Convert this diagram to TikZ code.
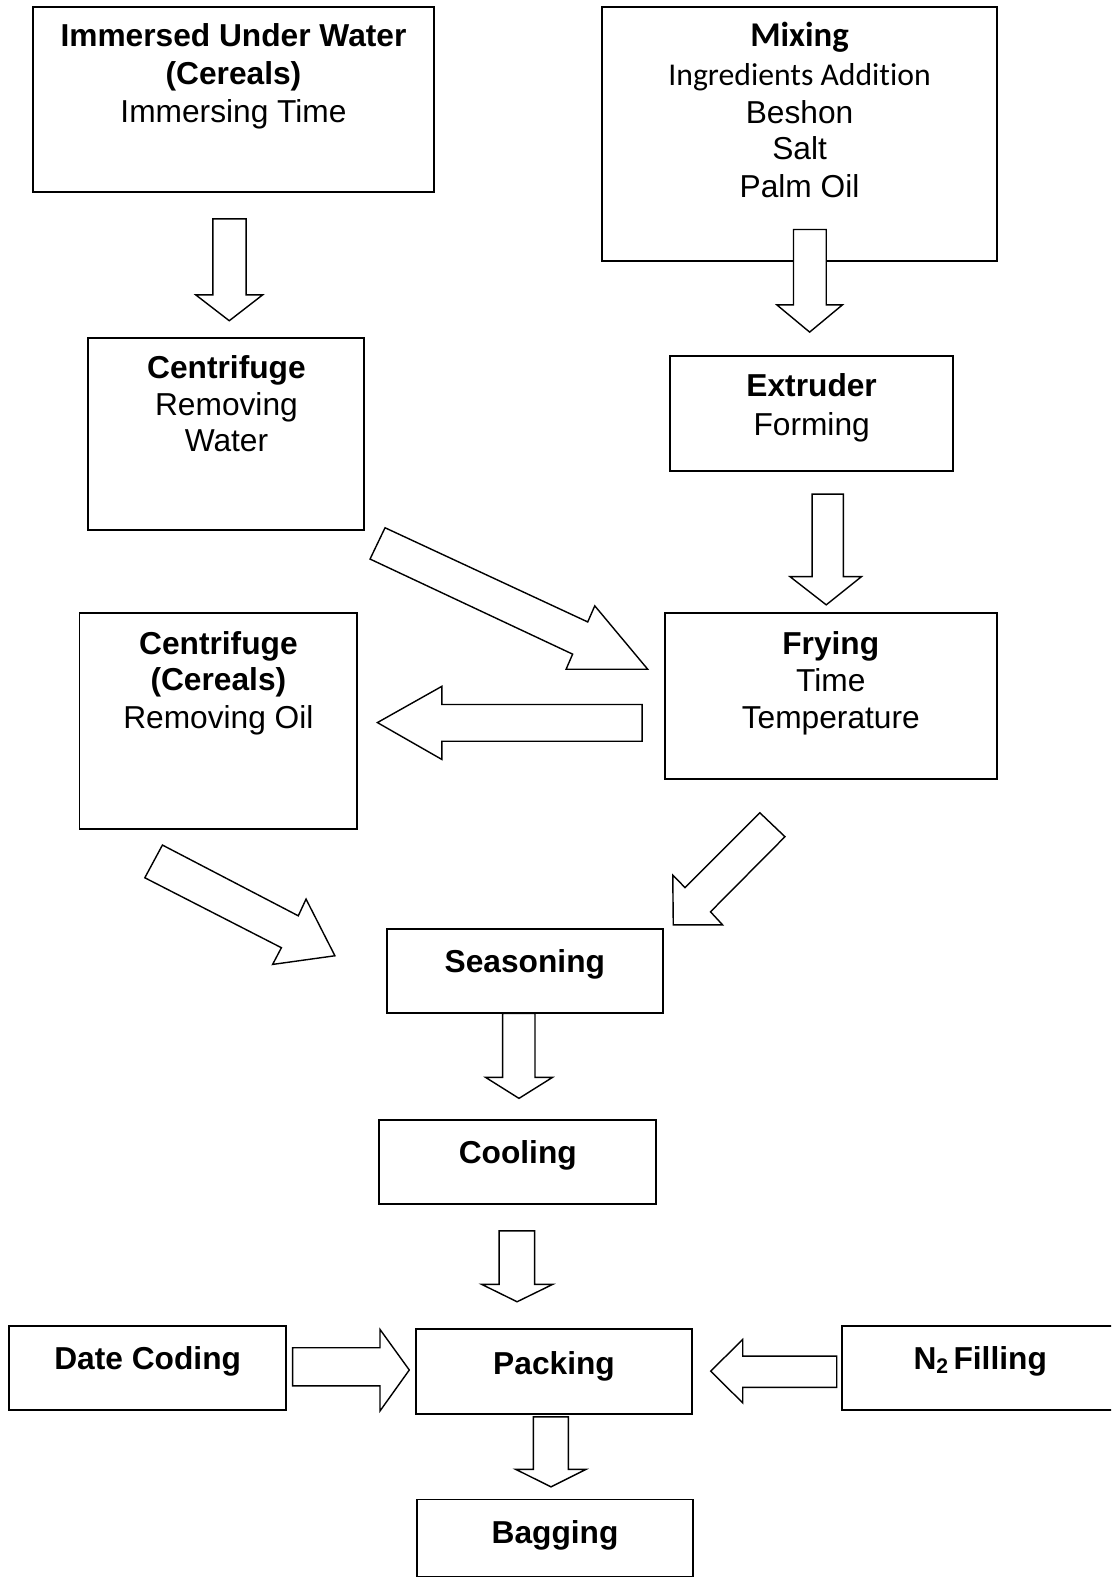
\documentclass[tikz,border=0pt]{standalone}
\usepackage{fontspec}
\setmainfont{Liberation Sans}
\newfontfamily\calib[Ligatures=NoCommon]{Carlito}
\begin{document}
\begin{tikzpicture}[x=1pt,y=-1pt,
  box/.style={draw, line width=1.9pt, inner sep=0pt, outer sep=0pt},
  blk/.style={draw, line width=1.4pt, fill=white, line join=miter},
  txt/.style={anchor=base, inner sep=0pt, font=\fontsize{31.5}{37}\selectfont},
  btxt/.style={anchor=base, inner sep=0pt, font=\fontsize{31.5}{37}\selectfont\bfseries},
  ctxt/.style={anchor=base, inner sep=0pt, font=\fontsize{31.5}{37}\selectfont\calib},
  cbtxt/.style={anchor=base, inner sep=0pt, font=\fontsize{34.5}{40}\selectfont\calib\bfseries}]
\useasboundingbox (0,0) rectangle (1104,1568);
\fill[white] (0,0) rectangle (1104,1568);
\clip (0,0) rectangle (1104,1568);

% boxes
\node[box, minimum width=397.8pt, minimum height=183.2pt] (imm) at (232.1,98.9) {};
\node[box, minimum width=392.5pt, minimum height=252.1pt] (mix) at (794.75,133.35) {};
\node[box, minimum width=273.9pt, minimum height=190.5pt] (cenw) at (224.75,431.45) {};
\node[box, minimum width=281.5pt, minimum height=113.9pt] (ext) at (806.55,410.75) {};
\node[box, minimum width=330pt, minimum height=165pt] (fry) at (825.5,692) {};
\node[box, minimum width=276pt, minimum height=214.5pt] (ceno) at (217,716.75) {};
\node[box, minimum width=274.5pt, minimum height=83.8pt] (sea) at (521.75,965.1) {};
\node[box, minimum width=275pt, minimum height=83.4pt] (coo) at (514.1,1154.7) {};
\node[box, minimum width=274.9pt, minimum height=83.6pt] (dat) at (146.75,1359.2) {};
\node[box, minimum width=275pt, minimum height=84pt] (pac) at (550.5,1363) {};
\node[box, minimum width=274pt, minimum height=83.6pt] (nit) at (974,1359.2) {};
\node[box, minimum width=275pt, minimum height=76.5pt] (bag) at (551.5,1528.25) {};

% texts
\node[btxt] (imm1) at (232,46.5) {Immersed Under Water};
\node[btxt] (imm2) at (232,84) {(Cereals)};
\node[txt]  (imm3) at (232,121.5) {Immersing Time};

\node[cbtxt] (mix1) at (794.5,46.4) {Mixing};
\node[ctxt]  (mix2) at (794.5,84.5) {Ingredients Addition};
\node[txt]   (mix3) at (794.5,122.6) {Beshon};
\node[txt]   (mix4) at (794.5,158.5) {Salt};
\node[txt]   (mix5) at (794.5,196) {Palm Oil};

\node[btxt] (cenw1) at (225,376) {Centrifuge};
\node[txt]  (cenw2) at (225,412.4) {Removing};
\node[txt]  (cenw3) at (225,449) {Water};

\node[btxt] (ext1) at (806.5,394.2) {Extruder};
\node[txt]  (ext2) at (806.5,432.3) {Forming};

\node[btxt] (fry1) at (825.5,650) {Frying};
\node[txt]  (fry2) at (825.5,687) {Time};
\node[txt]  (fry3) at (825.5,724) {Temperature};

\node[btxt] (ceno1) at (217,650) {Centrifuge};
\node[btxt] (ceno2) at (217,686.5) {(Cereals)};
\node[txt]  (ceno3) at (217,724) {Removing Oil};

\node[btxt] (sea1) at (521.5,966.5) {Seasoning};
\node[btxt] (coo1) at (514.5,1156) {Cooling};
\node[btxt] (dat1) at (146.75,1361) {Date Coding};
\node[btxt] (pac1) at (550.5,1366) {Packing};
\node[btxt] (nit1) at (974,1361) {N\raisebox{-0.12em}{\fontsize{21}{21}\selectfont 2}\,Filling};
\node[btxt] (bag1) at (551.5,1534) {Bagging};

% block arrows
% immersed -> centrifuge
\draw[blk] (211.5,217.5) -- (244.5,217.5) -- (244.5,293) -- (261,293) -- (227.8,318.7) -- (194.5,293) -- (211.5,293) -- cycle;
% mixing -> extruder
\draw[blk] (788.5,228) -- (821,228) -- (821,303) -- (837,303) -- (804.5,330) -- (772,303) -- (788.5,303) -- cycle;
% extruder -> frying
\draw[blk] (807,491) -- (838,491) -- (838,573) -- (856,573) -- (821,601) -- (785,573) -- (807,573) -- cycle;
% centrifuge -> frying (diagonal)
\draw[blk] (382.6,524.4) -- (584,618) -- (591,602) -- (643.6,665) -- (562.5,665) -- (569,650) -- (367.7,555.5) -- cycle;
% frying -> centrifuge cereals (left)
\draw[blk] (638,700) -- (638,736.5) -- (439,736.5) -- (439,754.6) -- (375,718) -- (439,682) -- (439,700) -- cycle;
% frying -> seasoning (diagonal)
\draw[blk] (755,807.6) -- (780,831.4) -- (706,906) -- (718,919) -- (669,919) -- (668.5,869.5) -- (680.7,882) -- cycle;
% centrifuge cereals -> seasoning (diagonal)
\draw[blk] (161.4,839.7) -- (296.4,910) -- (304.1,893.4) -- (332.8,949.7) -- (270.9,958.3) -- (279.6,941.7) -- (143.9,872.2) -- cycle;
% seasoning -> cooling
\draw[blk] (499.5,1007) -- (531.6,1007) -- (531.6,1070.6) -- (548.9,1070.6) -- (515.7,1091.4) -- (482.6,1070.6) -- (499.5,1070.6) -- cycle;
% cooling -> packing
\draw[blk] (495.9,1223) -- (531.3,1223) -- (531.3,1276.2) -- (549.2,1276.2) -- (513.8,1293.5) -- (478.6,1276.2) -- (495.9,1276.2) -- cycle;
% date coding -> packing
\draw[blk] (290.8,1339.2) -- (377.6,1339.2) -- (377.6,1321) -- (406.7,1361.3) -- (377.6,1402) -- (377.6,1377) -- (290.8,1377) -- cycle;
% N2 -> packing
\draw[blk] (831.4,1347.5) -- (831.4,1378.6) -- (738,1378.6) -- (738,1394) -- (706.2,1362.4) -- (738,1331) -- (738,1347.5) -- cycle;
% packing -> bagging
\draw[blk] (530,1407.8) -- (564.8,1407.8) -- (564.8,1460) -- (582.3,1460) -- (547.5,1477.4) -- (512.4,1460) -- (530,1460) -- cycle;
\end{tikzpicture}
\end{document}
